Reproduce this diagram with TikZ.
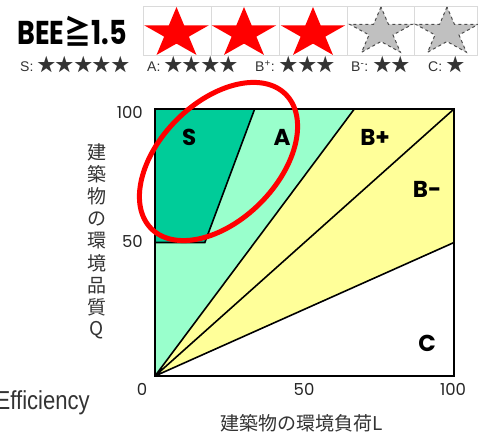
\documentclass[tikz,border=0pt]{standalone}
\usepackage{fontspec}
\setmainfont{Liberation Sans}
\newfontfamily\geo{Poppins}
\newfontfamily\cjk{Noto Sans CJK JP}
\definecolor{sgreen}{HTML}{00CC99}
\definecolor{agreen}{HTML}{99FFCC}
\definecolor{byellow}{HTML}{FFFF99}
\definecolor{stargray}{HTML}{C0C0C0}
\definecolor{boxgray}{HTML}{DADADA}
\definecolor{txtgray}{HTML}{333333}
\newcommand\hoshi[1]{{\cjk\fontsize{18.5}{18.5}\selectfont#1}}
\tikzset{
	redstar/.style={fill=red},
	graystar/.style={fill=stargray,draw=black!70,dashed,line width=1pt},
	rank/.style={font=\geo\bfseries\fontsize{23}{23}\selectfont},
	tick/.style={font=\geo\fontsize{16.5}{16.5}\selectfont,text=black!85},
	legend/.style={anchor=base west,font=\fontsize{14}{14}\selectfont,text=txtgray}
}
\begin{document}
\begin{tikzpicture}[x=1pt,y=1pt,inner sep=0pt]
	\useasboundingbox (0,0) rectangle (478,436);
	% rating boxes
	\draw[boxgray,line width=0.8pt] (143,381) rectangle (477,429.3);
	\foreach \x in {211,279,347,414}{\draw[boxgray,line width=0.8pt] (\x,381)--(\x,429.3);}
	\foreach \x/\rx/\ry/\s in {176.5/34/26.5/redstar, 244/34/26.5/redstar, 313/34/26.5/redstar,
		381/33/25/graystar, 447/33/25/graystar}{
		\path[\s,shift={(\x,429-\ry)},xscale=\rx,yscale=\ry] (90:1)--(126:0.382)--(162:1)--(198:0.382)
		--(234:1)--(270:0.382)--(306:1)--(342:0.382)--(18:1)--(54:0.382)--cycle;
	}
	\node (bee) at (72,405) {\scalebox{0.82}[1]{\geo\bfseries\fontsize{33}{33}\selectfont BEE{\cjk≧}1.5}};
	\foreach \n/\x/\t in {ls/20/{S: \hoshi{★★★★★}}, la/147/{A: \hoshi{★★★★}}, lbp/255/{B\textsuperscript{+}: \hoshi{★★★}},
		lbm/351/{B\textsuperscript{-}: \hoshi{★★}}, lc/428/{C: \hoshi{★}}}{
		\node[legend] (\n) at (\x,364.3) {\t};
	}
	% chart
	\begin{scope}[shift={(155,60)},x=2.99pt,y=2.67pt]
		\path (0,0) coordinate (O) (0,50) coordinate (Q50) (50/3,50) coordinate (S50)
		(100/3,100) coordinate (S100) (200/3,100) coordinate (A100) (0,100) coordinate (TL)
		(100,100) coordinate (TR) (100,50) coordinate (R50);
		\fill[agreen] (O)--(A100)--(TL)--cycle;
		\fill[sgreen] (Q50)--(S50)--(S100)--(TL)--cycle;
		\fill[byellow] (O)--(R50)--(TR)--(A100)--cycle;
		\draw[line width=1.6pt] (Q50)--(S50)--(S100) (O)--(A100) (O)--(TR) (O)--(R50);
		\draw[line width=2.5pt] (O) rectangle (TR);
		\foreach \n/\p/\t in {s/{11.4,89.5}/S, a/{42.5,89.5}/A, bp/{73.6,89.5}/B+, bm/{91,69.7}/B-, c/{91,12.4}/C}{
			\node[rank] (\n) at (\p) {\t};
		}
	\end{scope}
	\draw[red,line width=5pt,shift={(218.5,274.5)},rotate=45] (0,0) ellipse [x radius=95,y radius=59];
	% axes
	\foreach \n/\p/\a/\t in {y100/{143,324}/east/100, y50/{143,195}/east/50, x0/{142,47}/center/0,
		x50/{304,47}/center/50, x100/{453,47}/center/100}{
		\node[tick,anchor=\a] (\n) at (\p) {\t};
	}
	\foreach \c [count=\i] in {建,築,物,の,環,境,品,質,Q}{
		\node[font=\cjk\fontsize{19}{19}\selectfont,text=txtgray] (q\i) at (97,{284-22.25*(\i-1)}) {\c};
	}
	\node[font=\cjk\fontsize{19}{19}\selectfont,text=txtgray] (lx) at (302,13) {建築物の環境負荷L};
	\node[anchor=base east,font=\fontsize{26}{26}\selectfont,text=txtgray] (eff) at (90,26.5) {\scalebox{0.85}[1]{Efficiency}};
\end{tikzpicture}
\end{document}
